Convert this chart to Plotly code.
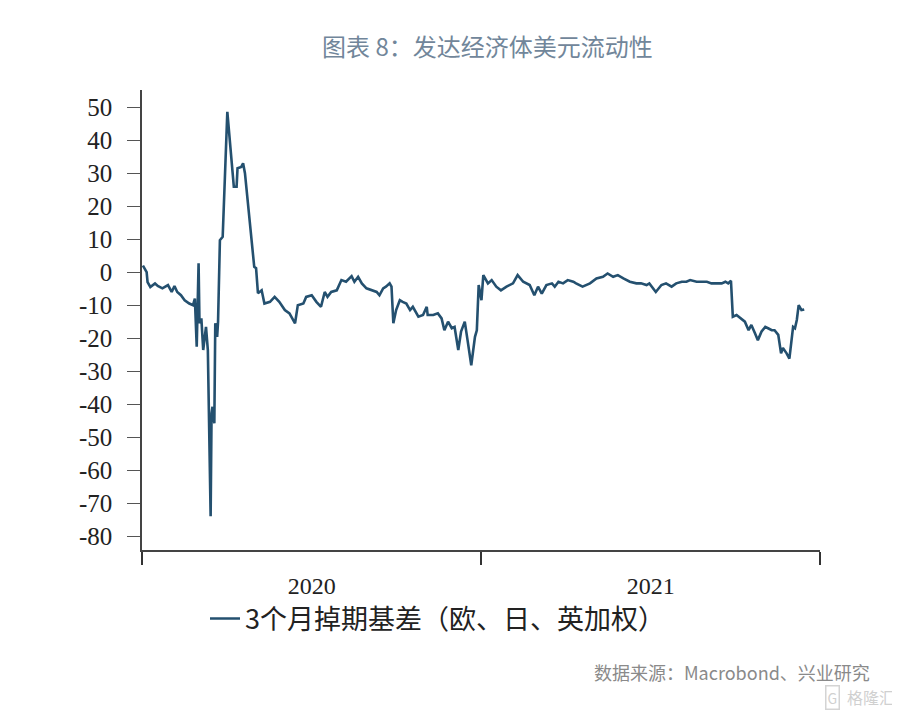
import plotly.graph_objects as go

dates = [
    "2020-01-02", "2020-01-06", "2020-01-07", "2020-01-10", "2020-01-15", "2020-01-18",
    "2020-01-23", "2020-01-29", "2020-02-02", "2020-02-05", "2020-02-08", "2020-02-12",
    "2020-02-16", "2020-02-21", "2020-02-25", "2020-02-27", "2020-02-29", "2020-03-02",
    "2020-03-03", "2020-03-05", "2020-03-07", "2020-03-10", "2020-03-12", "2020-03-15",
    "2020-03-16", "2020-03-17", "2020-03-19", "2020-03-20", "2020-03-22", "2020-03-23",
    "2020-03-25", "2020-03-28", "2020-04-02", "2020-04-06", "2020-04-09", "2020-04-12",
    "2020-04-13", "2020-04-17", "2020-04-19", "2020-04-21", "2020-04-24", "2020-04-28",
    "2020-05-01", "2020-05-03", "2020-05-05", "2020-05-09", "2020-05-12", "2020-05-18",
    "2020-05-23", "2020-05-28", "2020-06-03", "2020-06-08", "2020-06-14", "2020-06-17",
    "2020-06-23", "2020-06-26", "2020-07-02", "2020-07-07", "2020-07-12", "2020-07-16",
    "2020-07-19", "2020-07-23", "2020-07-29", "2020-08-03", "2020-08-08", "2020-08-14",
    "2020-08-17", "2020-08-21", "2020-08-25", "2020-08-30", "2020-09-04", "2020-09-10",
    "2020-09-13", "2020-09-17", "2020-09-20", "2020-09-24", "2020-09-26", "2020-09-28",
    "2020-10-01", "2020-10-05", "2020-10-08", "2020-10-12", "2020-10-16", "2020-10-19",
    "2020-10-25", "2020-10-30", "2020-11-03", "2020-11-04", "2020-11-10", "2020-11-15",
    "2020-11-19", "2020-11-22", "2020-11-26", "2020-11-30", "2020-12-03", "2020-12-07",
    "2020-12-10", "2020-12-14", "2020-12-17", "2020-12-21", "2020-12-25", "2020-12-27",
    "2020-12-29", "2021-01-01", "2021-01-03", "2021-01-08", "2021-01-12", "2021-01-17",
    "2021-01-22", "2021-01-28", "2021-02-04", "2021-02-09", "2021-02-15", "2021-02-22",
    "2021-02-27", "2021-03-03", "2021-03-07", "2021-03-12", "2021-03-18", "2021-03-21",
    "2021-03-25", "2021-03-30", "2021-04-04", "2021-04-10", "2021-04-13", "2021-04-20",
    "2021-04-28", "2021-05-05", "2021-05-12", "2021-05-17", "2021-05-23", "2021-05-28",
    "2021-06-03", "2021-06-10", "2021-06-17", "2021-06-22", "2021-06-28", "2021-07-01",
    "2021-07-08", "2021-07-14", "2021-07-19", "2021-07-25", "2021-07-30", "2021-08-05",
    "2021-08-10", "2021-08-14", "2021-08-21", "2021-08-27", "2021-09-01", "2021-09-06",
    "2021-09-12", "2021-09-17", "2021-09-21", "2021-09-24", "2021-09-27", "2021-09-29",
    "2021-10-03", "2021-10-07", "2021-10-12", "2021-10-16", "2021-10-19", "2021-10-23",
    "2021-10-26", "2021-10-30", "2021-11-03", "2021-11-06", "2021-11-10", "2021-11-13",
    "2021-11-17", "2021-11-20", "2021-11-22", "2021-11-26", "2021-11-29", "2021-12-03",
    "2021-12-05", "2021-12-07", "2021-12-09", "2021-12-12", "2021-12-15",
]

basis = [
    2.0, 0.0, -3.0, -4.5, -3.4, -4.2,
    -4.9, -3.9, -6.0, -4.2, -6.0, -7.0,
    -8.5, -9.5, -10.0, -8.0, -22.6, 2.7,
    -15.5, -14.0, -23.6, -16.6, -23.6, -74.0,
    -42.8, -40.8, -45.8, -15.5, -19.6, -15.0,
    9.7, 10.7, 48.6, 34.0, 25.9, 25.9,
    31.5, 31.9, 33.0, 30.0, 21.8, 10.7,
    1.6, 1.2, -6.4, -5.5, -9.5, -9.0,
    -7.5, -9.0, -11.5, -12.5, -15.5, -10.0,
    -9.5, -7.5, -7.0, -9.0, -10.5, -6.0,
    -7.5, -6.0, -5.5, -2.4, -2.9, -1.2,
    -2.9, -1.4, -3.4, -4.9, -5.5, -6.0,
    -7.0, -4.9, -4.4, -3.4, -4.4, -15.5,
    -11.5, -8.5, -9.0, -9.5, -11.5, -10.5,
    -13.5, -13.0, -10.5, -13.0, -13.0, -12.5,
    -14.0, -17.6, -15.0, -17.0, -16.6, -23.6,
    -18.0, -15.0, -20.6, -28.2, -19.6, -17.6,
    -3.9, -8.5, -0.9, -3.4, -2.4, -4.4,
    -5.5, -4.4, -3.4, -0.9, -2.9, -3.9,
    -7.0, -4.4, -6.5, -3.9, -3.4, -4.4,
    -2.9, -3.4, -2.4, -2.9, -3.4, -4.4,
    -3.4, -1.9, -1.4, -0.4, -1.4, -0.9,
    -1.9, -2.9, -3.4, -3.4, -3.9, -3.4,
    -6.0, -3.9, -3.4, -4.4, -3.4, -2.9,
    -2.9, -2.4, -2.9, -2.9, -2.9, -3.4,
    -3.4, -3.4, -2.9, -3.4, -2.6, -13.5,
    -13.0, -14.0, -15.0, -17.6, -16.0, -18.6,
    -20.6, -18.0, -16.6, -17.0, -17.6, -17.6,
    -19.0, -24.6, -23.0, -24.6, -26.2, -16.6,
    -17.0, -14.5, -10.0, -11.5, -11.3,
]

series_name = "3个月掉期基差（欧、日、英加权）"
title_text = "图表 8：发达经济体美元流动性"
source_text = "数据来源：Macrobond、兴业研究"
y_ticks = [50, 40, 30, 20, 10, 0, -10, -20, -30, -40, -50, -60, -70, -80]

serif = "Liberation Serif, Times New Roman, serif"
cjk = "Noto Sans CJK SC, Noto Sans, sans-serif"

# page body has an 8px margin; figure is sized so plot area sits at x 142..820, y 90..550
PW, PH = 678, 460

fig = go.Figure()
fig.add_trace(go.Scatter(
    x=dates, y=basis, mode="lines", name=series_name,
    line=dict(color="#24506f", width=2.6),
))

fig.update_layout(
    width=892, height=708,
    margin=dict(l=134, r=80, t=82, b=166),
    paper_bgcolor="white", plot_bgcolor="white",
    showlegend=True,
    legend=dict(
        orientation="h", x=63 / PW, y=-69 / PH, xanchor="left", yanchor="middle",
        font=dict(family=cjk, size=27, color="#222222"),
        bgcolor="rgba(0,0,0,0)",
    ),
    xaxis=dict(
        type="date", range=["2020-01-01", "2022-01-01"],
        tick0="2020-01-01", dtick="M12", tickformat="%Y",
        ticklabelmode="period",
        showgrid=False, zeroline=False,
        showline=True, linecolor="#444444", linewidth=1.5,
        ticks="outside", ticklen=13, tickwidth=2, tickcolor="#333333",
        tickfont=dict(family=serif, size=24, color="#222222"),
        ticklabelstandoff=0,
    ),
    yaxis=dict(
        range=[-84.2, 55.2],
        tickvals=y_ticks, ticktext=[str(v) for v in y_ticks],
        showgrid=False, zeroline=False,
        showline=True, linecolor="#444444", linewidth=1.5,
        ticks="outside", ticklen=13, tickwidth=1, tickcolor="#555555",
        tickfont=dict(family=serif, size=25, color="#222222"),
        ticklabelstandoff=10,
    ),
    annotations=[
        dict(text=title_text, xref="paper", yref="paper", x=(487 - 142) / PW,
             y=1 + (90 - 45) / PH, xanchor="center", yanchor="middle",
             showarrow=False, font=dict(family=cjk, size=24, color="#71869a")),
        dict(text=source_text, xref="paper", yref="paper", x=(872 - 142) / PW,
             y=-(672 - 550) / PH, xanchor="right", yanchor="middle",
             showarrow=False, font=dict(family=cjk, size=18, color="#8a8a8a")),
        dict(text="G", xref="paper", yref="paper", x=(832 - 142) / PW,
             y=-(697 - 550) / PH, xanchor="center", yanchor="middle",
             showarrow=False, bordercolor="#d4d4d4", borderwidth=1.5, borderpad=1,
             font=dict(family=cjk, size=14, color="#d0d0d0")),
        dict(text="格隆汇", xref="paper", yref="paper", x=(845 - 142) / PW,
             y=-(697 - 550) / PH, xanchor="left", yanchor="middle",
             showarrow=False, font=dict(family=cjk, size=16, color="#d0d0d0")),
    ],
)

fig.write_html("out.html")
